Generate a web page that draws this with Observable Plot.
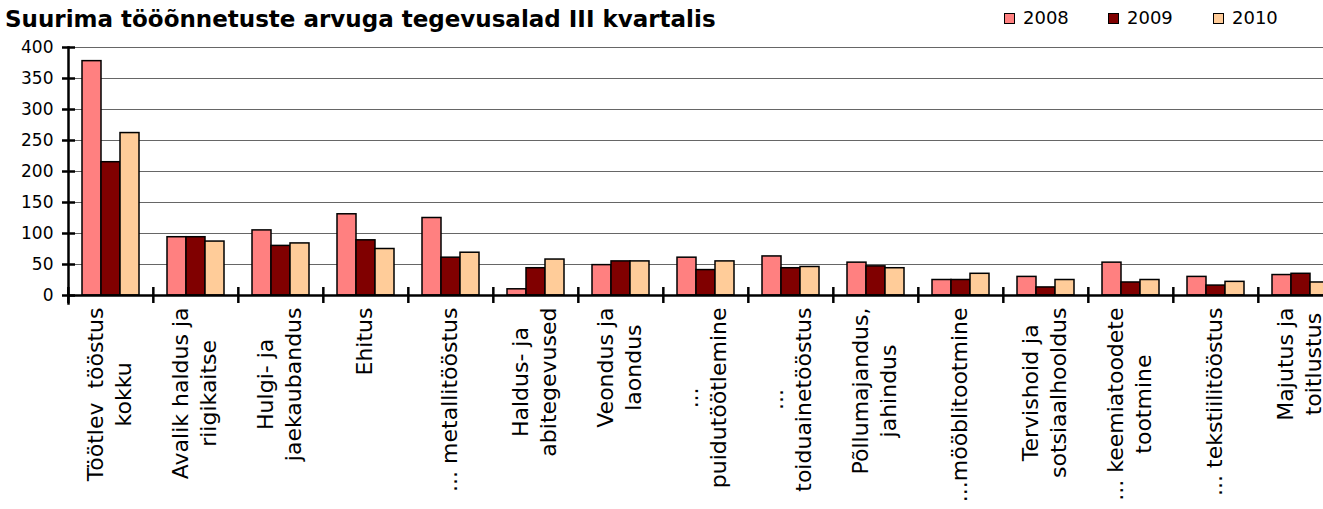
<!DOCTYPE html>
<html><head><meta charset="utf-8">
<script src="https://cdn.jsdelivr.net/npm/d3@7"></script>
<script src="https://cdn.jsdelivr.net/npm/@observablehq/plot@0.6"></script>
<style>
html,body{margin:0;padding:0;background:#fff;overflow:hidden;width:1323px;height:509px}
#head{position:relative;height:36px;font-family:"DejaVu Sans",Verdana,sans-serif;color:#000}
#title{position:absolute;left:5px;top:6px;font-weight:bold;font-size:23px;line-height:26px;white-space:nowrap}
.lg{position:absolute;top:8px;font-size:18px;line-height:20px;display:flex;align-items:center;white-space:nowrap}
.sw{width:9px;height:9px;border:1px solid #000;margin-right:8px}
#chart{width:1345px}
</style></head><body>
<div id="head"><div id="title">Suurima tööõnnetuste arvuga tegevusalad III kvartalis</div><div id="legend"></div></div>
<div id="chart"></div>
<script>
const categories = [
  "Töötlev\u00a0 tööstus\nkokku",
  "Avalik haldus ja\nriigikaitse",
  "Hulgi- ja\njaekaubandus",
  "Ehitus",
  "... metallitööstus",
  "Haldus- ja\nabitegevused",
  "Veondus ja\nlaondus",
  "...\npuidutöötlemine",
  "...\ntoiduainetööstus",
  "Põllumajandus,\njahindus",
  "...mööblitootmine",
  "Tervishoid ja\nsotsiaalhooldus",
  "... keemiatoodete\ntootmine",
  "... tekstiilitööstus",
  "Majutus ja\ntoitlustus"
];
const years = ["2008", "2009", "2010"];
const v2008 = [378, 94, 105, 131, 125, 10, 49, 61, 63, 53, 25, 30, 53, 30, 33];
const v2009 = [215, 94, 80, 89, 61, 44, 55, 41, 44, 47, 25, 13, 21, 16, 35];
const v2010 = [262, 87, 84, 75, 69, 58, 55, 55, 46, 44, 35, 25, 25, 22, 21];
const colors = ["#FF8080", "#800000", "#FFCC99"];
const yTicks = [0, 50, 100, 150, 200, 250, 300, 350, 400];

const series = [v2008, v2009, v2010];
const data = categories.flatMap((c, i) => years.map((y, j) => ({cat: c, year: y, value: series[j][i]})));

// legend
const legend = document.getElementById("legend");
const legendX = [1004, 1108, 1213];
years.forEach((y, j) => {
  const d = document.createElement("div");
  d.className = "lg";
  d.style.left = legendX[j] + "px";
  d.innerHTML = `<span class="sw" style="background:${colors[j]}"></span>${y}`;
  legend.appendChild(d);
});

const W = 1345, H = 473, mt = 11, mb = 214, ml = 65;
const plotH = H - mt - mb;
const pxPerUnit = plotH / 400;
const band = (W - ml) / categories.length;
const labelFont = 22;
const ctx = document.createElement("canvas").getContext("2d");
ctx.font = `${labelFont}px 'DejaVu Sans'`;
const labelTop = 12;
const labelData = categories.map(c => {
  const w = d3.max(c.split("\n"), s => ctx.measureText(s).width);
  return {cat: c, y: -(labelTop + w / 2) / pxPerUnit};
});

const chart = Plot.plot({
  width: W, height: H,
  marginLeft: ml, marginRight: 0, marginTop: mt, marginBottom: mb,
  style: {fontFamily: "'DejaVu Sans', Verdana, sans-serif", background: "#fff", maxWidth: "none", color: "#000"},
  fx: {domain: categories, padding: 0},
  x: {domain: years, paddingInner: 0, paddingOuter: 0.72, axis: null},
  y: {domain: [0, 400]},
  color: {domain: years, range: colors},
  marks: [
    Plot.ruleY(yTicks.filter(d => d > 0), {stroke: "#666", strokeWidth: 1}),
    Plot.barY(data, {fx: "cat", x: "year", y: "value", fill: "year", stroke: "#000", strokeWidth: 1.5}),
    Plot.ruleY([0], {stroke: "#000", strokeWidth: 2.5}),
    Plot.frame({anchor: "left", facetAnchor: "left", stroke: "#000", strokeWidth: 2.5, insetBottom: -8}),
    Plot.axisY({ticks: yTicks, tickSize: 13, dx: 7, tickPadding: 9, fontSize: 17, strokeWidth: 2.5, tickFormat: d => d, label: null, facetAnchor: "left"}),
    Plot.axisFx({anchor: "bottom", tickSize: 16, dy: -8, dx: -band / 2, strokeWidth: 2.5, tickFormat: () => "", label: null}),
    Plot.text(labelData, {fx: "cat", y: "y", text: "cat", rotate: -90, textAnchor: "middle", lineAnchor: "middle", lineHeight: 1.3, dx: -3, fontSize: labelFont, fill: "#000"})
  ]
});
document.getElementById("chart").appendChild(chart);
</script>
</body></html>
